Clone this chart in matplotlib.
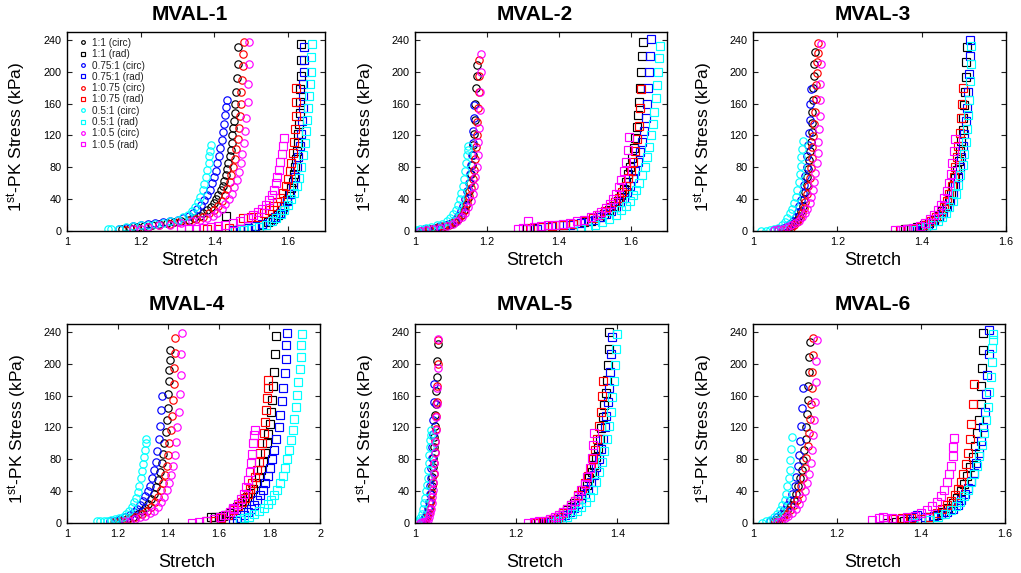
import matplotlib
matplotlib.use("Agg")
import matplotlib.pyplot as plt
from matplotlib.ticker import FormatStrFormatter

plt.rcParams["font.family"] = ["Liberation Sans", "DejaVu Sans"]
plt.rcParams["mathtext.default"] = "regular"

# series order: 1:1 circ, 1:1 rad, 0.75:1 circ, 0.75:1 rad, 1:0.75 circ,
#               1:0.75 rad, 0.5:1 circ, 0.5:1 rad, 1:0.5 circ, 1:0.5 rad
labels = ["1:1 (circ)", "1:1 (rad)", "0.75:1 (circ)", "0.75:1 (rad)",
          "1:0.75 (circ)", "1:0.75 (rad)", "0.5:1 (circ)", "0.5:1 (rad)",
          "1:0.5 (circ)", "1:0.5 (rad)"]
colors = ["black", "black", "blue", "blue", "red", "red",
          "cyan", "cyan", "magenta", "magenta"]
markers = ["o", "s"] * 5

titles = ["MVAL-1", "MVAL-2", "MVAL-3", "MVAL-4", "MVAL-5", "MVAL-6"]
xlims = [(1, 1.7), (1, 1.7), (1, 1.6), (1, 2), (1, 1.5), (1, 1.6)]
xticks = [[1, 1.2, 1.4, 1.6], [1, 1.2, 1.4, 1.6], [1, 1.2, 1.4, 1.6],
          [1, 1.2, 1.4, 1.6, 1.8, 2], [1, 1.2, 1.4], [1, 1.2, 1.4, 1.6]]
yticks = [0, 40, 80, 120, 160, 200, 240]

# stretch (x) and 1st-PK stress in kPa (y)
mval1_x = [
    [1.15, 1.17, 1.19, 1.21, 1.23, 1.25, 1.27, 1.29, 1.31, 1.33, 1.345, 1.36, 1.37, 1.38, 1.39, 1.398, 1.405, 1.411, 1.417, 1.422, 1.427, 1.431, 1.435, 1.438, 1.441, 1.444, 1.447, 1.449, 1.451, 1.453, 1.455, 1.457, 1.459, 1.461, 1.463, 1.465],
    [1.432, 1.45, 1.47, 1.49, 1.51, 1.53, 1.545, 1.56, 1.572, 1.582, 1.59, 1.597, 1.603, 1.608, 1.612, 1.616, 1.619, 1.622, 1.624, 1.626, 1.628, 1.63, 1.631, 1.632, 1.633, 1.634, 1.635, 1.636],
    [1.14, 1.16, 1.18, 1.2, 1.22, 1.24, 1.26, 1.28, 1.3, 1.315, 1.33, 1.342, 1.353, 1.363, 1.372, 1.38, 1.387, 1.393, 1.398, 1.403, 1.408, 1.412, 1.416, 1.42, 1.424, 1.427, 1.43, 1.432, 1.434],
    [1.45, 1.47, 1.49, 1.51, 1.53, 1.55, 1.565, 1.578, 1.589, 1.598, 1.606, 1.613, 1.619, 1.624, 1.628, 1.632, 1.635, 1.637, 1.639, 1.64, 1.641, 1.642, 1.643, 1.644],
    [1.16, 1.19, 1.22, 1.25, 1.28, 1.305, 1.33, 1.35, 1.37, 1.385, 1.398, 1.41, 1.42, 1.428, 1.435, 1.441, 1.446, 1.451, 1.455, 1.459, 1.463, 1.466, 1.469, 1.471, 1.473, 1.475, 1.477, 1.478, 1.479],
    [1.38, 1.41, 1.44, 1.477, 1.5, 1.518, 1.535, 1.548, 1.56, 1.57, 1.578, 1.586, 1.593, 1.599, 1.604, 1.608, 1.612, 1.615, 1.618, 1.62, 1.621, 1.622],
    [1.11, 1.12, 1.14, 1.16, 1.18, 1.2, 1.22, 1.24, 1.26, 1.28, 1.3, 1.315, 1.328, 1.338, 1.347, 1.355, 1.362, 1.368, 1.373, 1.377, 1.381, 1.384, 1.386, 1.388, 1.39],
    [1.455, 1.48, 1.5, 1.52, 1.54, 1.555, 1.568, 1.58, 1.59, 1.6, 1.609, 1.617, 1.624, 1.63, 1.636, 1.641, 1.645, 1.649, 1.652, 1.655, 1.657, 1.659, 1.661, 1.663, 1.664],
    [1.18, 1.2, 1.22, 1.25, 1.28, 1.31, 1.34, 1.36, 1.38, 1.395, 1.408, 1.42, 1.43, 1.439, 1.447, 1.454, 1.46, 1.466, 1.471, 1.476, 1.48, 1.484, 1.487, 1.49, 1.492, 1.494, 1.495],
    [1.309, 1.33, 1.35, 1.37, 1.39, 1.41, 1.43, 1.45, 1.47, 1.49, 1.505, 1.518, 1.53, 1.54, 1.548, 1.555, 1.561, 1.566, 1.571, 1.575, 1.579, 1.583, 1.586, 1.589],
]
mval1_y = [
    [3, 4, 5, 6, 8, 9, 10, 11, 12, 14, 16, 19, 22, 26, 30, 35, 40, 45, 51, 57, 63, 70, 78, 86, 94, 102, 111, 120, 129, 138, 148, 160, 174, 192, 210, 231],
    [19, 1, 2, 4, 6, 8, 11, 15, 20, 26, 32, 39, 46, 54, 62, 71, 80, 90, 100, 111, 122, 135, 148, 162, 178, 195, 215, 235],
    [2, 4, 6, 8, 9, 10, 11, 12, 14, 16, 19, 23, 28, 33, 39, 45, 52, 60, 68, 76, 85, 94, 104, 114, 124, 135, 146, 156, 164],
    [1, 2, 4, 6, 9, 13, 17, 23, 30, 38, 47, 57, 68, 80, 93, 107, 122, 138, 155, 170, 185, 200, 215, 231],
    [1, 3, 5, 7, 9, 11, 13, 15, 18, 22, 27, 32, 38, 45, 53, 61, 70, 80, 91, 103, 116, 130, 145, 160, 175, 190, 207, 222, 237],
    [2, 3, 4, 16, 17, 18, 22, 27, 32, 37, 42, 48, 56, 65, 75, 86, 98, 112, 128, 145, 162, 180],
    [2, 2, 3, 5, 6, 7, 8, 9, 10, 12, 14, 17, 20, 25, 30, 36, 43, 51, 59, 68, 77, 86, 94, 101, 108],
    [0, 1, 3, 5, 8, 12, 16, 21, 27, 33, 40, 48, 57, 67, 80, 95, 110, 125, 140, 155, 170, 185, 200, 218, 235],
    [2, 3, 5, 7, 8, 10, 12, 14, 16, 19, 23, 28, 34, 40, 47, 55, 64, 74, 85, 97, 110, 125, 142, 162, 185, 210, 237],
    [2, 2, 3, 4, 5, 6, 8, 10, 13, 16, 20, 24, 28, 33, 39, 45, 52, 60, 68, 77, 87, 97, 107, 117],
]

mval2_x = [
    [1.02, 1.035, 1.05, 1.065, 1.08, 1.09, 1.1, 1.11, 1.12, 1.128, 1.135, 1.141, 1.146, 1.15, 1.153, 1.156, 1.158, 1.16, 1.162, 1.164, 1.166, 1.168, 1.17, 1.171, 1.172],
    [1.31, 1.33, 1.35, 1.38, 1.41, 1.44, 1.47, 1.49, 1.51, 1.525, 1.54, 1.553, 1.563, 1.572, 1.58, 1.587, 1.593, 1.598, 1.603, 1.608, 1.612, 1.616, 1.62, 1.623, 1.626, 1.629, 1.631, 1.632],
    [1.01, 1.025, 1.04, 1.055, 1.07, 1.085, 1.1, 1.11, 1.12, 1.127, 1.134, 1.14, 1.145, 1.149, 1.152, 1.155, 1.158, 1.16, 1.162, 1.164, 1.165],
    [1.34, 1.37, 1.4, 1.43, 1.46, 1.48, 1.5, 1.515, 1.53, 1.545, 1.558, 1.57, 1.58, 1.589, 1.597, 1.605, 1.612, 1.619, 1.625, 1.631, 1.636, 1.641, 1.645, 1.648, 1.651, 1.653, 1.655],
    [1.02, 1.04, 1.06, 1.08, 1.095, 1.108, 1.12, 1.13, 1.138, 1.145, 1.151, 1.156, 1.16, 1.163, 1.166, 1.169, 1.171, 1.173, 1.175, 1.177, 1.178, 1.179],
    [1.32, 1.35, 1.38, 1.41, 1.44, 1.47, 1.494, 1.512, 1.528, 1.542, 1.555, 1.566, 1.576, 1.585, 1.593, 1.6, 1.606, 1.612, 1.617, 1.621, 1.625, 1.628],
    [1.0, 1.005, 1.015, 1.03, 1.045, 1.06, 1.075, 1.088, 1.098, 1.106, 1.113, 1.119, 1.124, 1.128, 1.132, 1.136, 1.139, 1.142, 1.144, 1.146, 1.147],
    [1.438, 1.46, 1.48, 1.5, 1.52, 1.54, 1.557, 1.572, 1.585, 1.596, 1.606, 1.615, 1.623, 1.631, 1.638, 1.644, 1.65, 1.655, 1.66, 1.665, 1.669, 1.673, 1.676, 1.678, 1.68],
    [1.013, 1.03, 1.05, 1.07, 1.09, 1.105, 1.118, 1.13, 1.14, 1.148, 1.155, 1.16, 1.164, 1.168, 1.171, 1.174, 1.176, 1.178, 1.18, 1.181, 1.182, 1.183],
    [1.287, 1.3, 1.313, 1.33, 1.35, 1.37, 1.39, 1.41, 1.43, 1.45, 1.47, 1.49, 1.505, 1.518, 1.53, 1.541, 1.55, 1.558, 1.566, 1.573, 1.58, 1.586, 1.591, 1.595],
]
mval2_y = [
    [0, 2, 3, 5, 6, 8, 9, 11, 15, 20, 26, 33, 41, 50, 60, 71, 83, 95, 108, 122, 140, 160, 180, 195, 208],
    [3, 4, 5, 6, 7, 9, 11, 13, 17, 21, 27, 32, 38, 45, 53, 62, 71, 81, 92, 104, 117, 131, 146, 162, 180, 200, 220, 238],
    [0, 2, 3, 4, 6, 8, 10, 14, 19, 25, 32, 40, 50, 60, 71, 83, 96, 110, 126, 142, 158],
    [3, 5, 7, 8, 10, 12, 14, 17, 21, 25, 30, 36, 42, 49, 57, 66, 76, 87, 99, 112, 126, 142, 160, 180, 200, 220, 241],
    [0, 2, 4, 6, 8, 11, 15, 20, 27, 35, 44, 54, 65, 77, 90, 105, 120, 137, 155, 175, 195, 215],
    [4, 5, 6, 7, 9, 12, 16, 20, 25, 30, 36, 42, 49, 57, 66, 76, 87, 100, 115, 132, 155, 179],
    [0, 1, 3, 4, 5, 7, 9, 12, 16, 21, 27, 33, 40, 48, 56, 65, 75, 85, 95, 102, 107],
    [0, 2, 4, 7, 11, 15, 20, 26, 32, 38, 45, 52, 60, 70, 81, 93, 106, 120, 135, 150, 167, 184, 200, 217, 233],
    [0, 1, 2, 4, 6, 9, 12, 17, 23, 30, 38, 47, 57, 68, 81, 96, 112, 130, 152, 175, 200, 222],
    [2, 4, 12, 5, 6, 7, 8, 9, 10, 12, 14, 17, 20, 24, 29, 34, 40, 47, 55, 64, 75, 87, 102, 118],
]

mval3_x = [
    [1.06, 1.07, 1.08, 1.09, 1.098, 1.105, 1.11, 1.114, 1.118, 1.121, 1.124, 1.127, 1.129, 1.131, 1.133, 1.135, 1.137, 1.139, 1.14, 1.141, 1.142, 1.143, 1.144, 1.145, 1.146],
    [1.36, 1.375, 1.39, 1.405, 1.418, 1.43, 1.44, 1.449, 1.457, 1.464, 1.47, 1.475, 1.48, 1.484, 1.488, 1.491, 1.494, 1.497, 1.499, 1.501, 1.503, 1.505, 1.506, 1.507],
    [1.05, 1.06, 1.07, 1.08, 1.088, 1.095, 1.101, 1.106, 1.11, 1.114, 1.118, 1.121, 1.124, 1.127, 1.129, 1.131, 1.133, 1.135, 1.136, 1.137],
    [1.37, 1.385, 1.4, 1.415, 1.428, 1.44, 1.45, 1.459, 1.467, 1.474, 1.48, 1.485, 1.49, 1.494, 1.498, 1.501, 1.504, 1.507, 1.51, 1.512, 1.514, 1.515],
    [1.07, 1.08, 1.09, 1.098, 1.105, 1.111, 1.116, 1.12, 1.124, 1.128, 1.131, 1.134, 1.137, 1.139, 1.141, 1.143, 1.145, 1.147, 1.149, 1.15, 1.151, 1.152, 1.153, 1.154],
    [1.348, 1.365, 1.38, 1.395, 1.41, 1.423, 1.435, 1.445, 1.453, 1.46, 1.466, 1.471, 1.476, 1.48, 1.484, 1.487, 1.49, 1.493, 1.495, 1.497],
    [1.02, 1.03, 1.04, 1.05, 1.06, 1.068, 1.075, 1.081, 1.087, 1.092, 1.097, 1.101, 1.105, 1.108, 1.111, 1.113, 1.115, 1.117, 1.119],
    [1.38, 1.395, 1.41, 1.425, 1.438, 1.449, 1.458, 1.466, 1.474, 1.481, 1.487, 1.492, 1.497, 1.501, 1.505, 1.508, 1.511, 1.513, 1.515, 1.516, 1.517],
    [1.05, 1.06, 1.07, 1.08, 1.09, 1.1, 1.108, 1.116, 1.123, 1.129, 1.134, 1.138, 1.142, 1.145, 1.148, 1.151, 1.153, 1.155, 1.157, 1.158, 1.159, 1.16, 1.161, 1.162],
    [1.336, 1.35, 1.365, 1.38, 1.395, 1.408, 1.42, 1.43, 1.439, 1.447, 1.454, 1.46, 1.465, 1.469, 1.473, 1.476, 1.479],
]
mval3_y = [
    [1, 2, 4, 6, 10, 14, 19, 25, 32, 40, 49, 58, 68, 78, 89, 100, 112, 124, 136, 150, 164, 180, 195, 210, 225],
    [2, 3, 5, 7, 10, 14, 19, 25, 32, 39, 47, 56, 66, 77, 88, 100, 113, 127, 142, 158, 175, 194, 212, 231],
    [1, 2, 4, 6, 9, 13, 18, 24, 31, 39, 48, 58, 69, 81, 94, 108, 123, 140, 160, 178],
    [2, 3, 5, 8, 12, 17, 23, 30, 38, 47, 57, 68, 80, 93, 107, 122, 138, 155, 175, 197, 220, 240],
    [1, 2, 4, 7, 11, 16, 22, 29, 37, 46, 56, 67, 79, 92, 105, 119, 134, 150, 166, 183, 198, 212, 224, 236],
    [1, 2, 3, 5, 8, 12, 17, 23, 30, 38, 47, 57, 68, 80, 93, 107, 123, 142, 160, 180],
    [0, 0, 1, 2, 4, 7, 11, 16, 22, 28, 35, 43, 52, 62, 72, 82, 93, 103, 113],
    [1, 3, 5, 8, 12, 17, 23, 30, 38, 47, 58, 70, 83, 97, 112, 128, 146, 165, 188, 210, 233],
    [1, 2, 3, 5, 7, 10, 13, 17, 22, 28, 35, 43, 52, 62, 73, 85, 98, 112, 128, 145, 165, 185, 210, 235],
    [1, 1, 2, 4, 6, 10, 15, 20, 26, 33, 41, 50, 60, 72, 85, 100, 115],
]

mval4_x = [
    [1.2, 1.22, 1.24, 1.26, 1.28, 1.296, 1.31, 1.322, 1.333, 1.343, 1.352, 1.36, 1.367, 1.374, 1.38, 1.385, 1.39, 1.394, 1.398, 1.401, 1.403, 1.405, 1.407, 1.408],
    [1.57, 1.585, 1.6, 1.615, 1.63, 1.645, 1.658, 1.672, 1.686, 1.7, 1.713, 1.725, 1.737, 1.748, 1.758, 1.767, 1.775, 1.783, 1.79, 1.796, 1.802, 1.807, 1.812, 1.816, 1.82, 1.823, 1.826],
    [1.17, 1.19, 1.21, 1.23, 1.25, 1.265, 1.278, 1.29, 1.3, 1.31, 1.319, 1.328, 1.336, 1.344, 1.351, 1.357, 1.363, 1.368, 1.372, 1.375],
    [1.658, 1.67, 1.685, 1.7, 1.715, 1.728, 1.74, 1.752, 1.763, 1.773, 1.783, 1.793, 1.802, 1.811, 1.82, 1.828, 1.836, 1.843, 1.85, 1.855, 1.86, 1.864, 1.867, 1.868],
    [1.184, 1.21, 1.24, 1.27, 1.295, 1.316, 1.333, 1.348, 1.36, 1.37, 1.379, 1.387, 1.394, 1.4, 1.405, 1.41, 1.414, 1.418, 1.421, 1.424, 1.426, 1.428],
    [1.553, 1.58, 1.61, 1.635, 1.658, 1.675, 1.69, 1.703, 1.714, 1.724, 1.733, 1.742, 1.75, 1.757, 1.764, 1.771, 1.777, 1.782, 1.787, 1.791, 1.794, 1.796],
    [1.118, 1.13, 1.145, 1.16, 1.175, 1.19, 1.205, 1.22, 1.233, 1.245, 1.255, 1.264, 1.272, 1.279, 1.285, 1.291, 1.296, 1.3, 1.304, 1.308, 1.311, 1.313],
    [1.684, 1.7, 1.72, 1.74, 1.76, 1.777, 1.793, 1.807, 1.82, 1.832, 1.843, 1.853, 1.862, 1.87, 1.878, 1.885, 1.892, 1.899, 1.905, 1.91, 1.915, 1.919, 1.923, 1.926, 1.928],
    [1.23, 1.25, 1.27, 1.29, 1.31, 1.328, 1.345, 1.36, 1.373, 1.384, 1.394, 1.403, 1.411, 1.418, 1.425, 1.431, 1.436, 1.441, 1.445, 1.449, 1.452, 1.454],
    [1.493, 1.52, 1.55, 1.58, 1.605, 1.625, 1.645, 1.658, 1.662, 1.675, 1.687, 1.698, 1.707, 1.715, 1.722, 1.728, 1.733, 1.737, 1.74, 1.743],
]
mval4_y = [
    [2, 4, 6, 8, 11, 15, 19, 24, 30, 37, 45, 54, 64, 75, 87, 100, 114, 129, 145, 162, 178, 192, 205, 217],
    [8, 8, 8, 9, 10, 13, 17, 20, 24, 28, 33, 38, 43, 50, 58, 67, 77, 88, 100, 112, 125, 140, 155, 172, 190, 212, 235],
    [2, 3, 5, 7, 10, 14, 18, 23, 28, 34, 40, 47, 56, 66, 77, 90, 105, 122, 142, 160],
    [0, 3, 6, 10, 14, 18, 23, 29, 35, 42, 50, 59, 69, 80, 92, 105, 120, 136, 153, 170, 188, 206, 224, 239],
    [1, 3, 5, 8, 11, 15, 20, 26, 33, 41, 50, 60, 72, 85, 100, 117, 135, 155, 175, 195, 214, 232],
    [2, 3, 6, 10, 16, 21, 27, 32, 37, 43, 50, 58, 67, 77, 88, 100, 113, 127, 142, 157, 170, 180],
    [2, 2, 3, 3, 4, 5, 6, 8, 11, 15, 20, 26, 32, 39, 47, 56, 65, 74, 83, 92, 100, 105],
    [4, 6, 8, 11, 15, 19, 24, 29, 35, 42, 50, 59, 69, 80, 92, 104, 117, 131, 146, 161, 177, 193, 208, 223, 237],
    [2, 3, 5, 7, 9, 12, 15, 20, 26, 33, 41, 50, 60, 72, 86, 102, 120, 140, 162, 186, 212, 239],
    [0, 1, 3, 5, 7, 10, 14, 19, 18, 24, 30, 37, 45, 54, 64, 75, 87, 100, 110, 117],
]

mval5_x = [
    [1.015, 1.02, 1.024, 1.027, 1.029, 1.031, 1.033, 1.034, 1.035, 1.036, 1.037, 1.038, 1.039, 1.04, 1.041, 1.042, 1.043, 1.044, 1.045],
    [1.244, 1.255, 1.265, 1.275, 1.284, 1.292, 1.3, 1.308, 1.315, 1.322, 1.328, 1.334, 1.339, 1.344, 1.349, 1.353, 1.357, 1.361, 1.365, 1.368, 1.371, 1.374, 1.377, 1.379, 1.381, 1.383, 1.384],
    [1.012, 1.016, 1.02, 1.023, 1.025, 1.027, 1.029, 1.03, 1.031, 1.032, 1.033, 1.034, 1.035, 1.036, 1.037, 1.038],
    [1.257, 1.268, 1.278, 1.288, 1.297, 1.306, 1.314, 1.322, 1.329, 1.336, 1.342, 1.348, 1.353, 1.358, 1.363, 1.367, 1.371, 1.375, 1.378, 1.381, 1.384, 1.386, 1.388, 1.389],
    [1.015, 1.02, 1.024, 1.027, 1.03, 1.032, 1.034, 1.036, 1.037, 1.038, 1.039, 1.04, 1.041, 1.042, 1.043, 1.044, 1.045, 1.046],
    [1.237, 1.25, 1.262, 1.273, 1.283, 1.292, 1.3, 1.308, 1.316, 1.323, 1.33, 1.336, 1.342, 1.347, 1.352, 1.356, 1.36, 1.364, 1.367, 1.37, 1.371],
    [1.0, 1.003, 1.006, 1.01, 1.013, 1.016, 1.018, 1.02, 1.022, 1.023, 1.025, 1.026, 1.027, 1.028, 1.029, 1.03, 1.031, 1.032],
    [1.27, 1.28, 1.29, 1.3, 1.31, 1.32, 1.329, 1.337, 1.345, 1.352, 1.358, 1.364, 1.369, 1.374, 1.379, 1.383, 1.387, 1.39, 1.393, 1.396, 1.398, 1.399],
    [1.009, 1.013, 1.017, 1.021, 1.025, 1.028, 1.03, 1.032, 1.033, 1.034, 1.035, 1.036, 1.037, 1.038, 1.039, 1.04, 1.041, 1.042, 1.043, 1.044, 1.045, 1.046],
    [1.224, 1.235, 1.246, 1.257, 1.267, 1.276, 1.285, 1.293, 1.301, 1.309, 1.316, 1.323, 1.329, 1.335, 1.34, 1.345, 1.349, 1.352, 1.354],
]
mval5_y = [
    [1, 5, 10, 17, 26, 36, 47, 58, 70, 82, 95, 108, 122, 136, 150, 166, 183, 204, 225],
    [0, 1, 3, 5, 8, 12, 16, 20, 25, 30, 35, 41, 48, 56, 64, 73, 83, 94, 106, 119, 133, 148, 163, 180, 198, 218, 240],
    [1, 4, 8, 13, 19, 27, 36, 46, 57, 69, 82, 96, 112, 130, 152, 175],
    [0, 2, 4, 7, 10, 14, 19, 24, 30, 36, 43, 51, 60, 70, 81, 93, 106, 120, 135, 152, 170, 190, 212, 234],
    [0, 3, 7, 12, 19, 28, 38, 50, 62, 75, 89, 103, 118, 134, 152, 172, 200, 230],
    [0, 1, 3, 5, 8, 12, 17, 22, 28, 35, 42, 50, 59, 69, 80, 92, 106, 122, 140, 160, 179],
    [0, 1, 3, 6, 11, 18, 25, 32, 40, 48, 57, 66, 76, 86, 95, 104, 110, 117],
    [0, 2, 4, 7, 11, 15, 20, 26, 33, 42, 52, 64, 77, 91, 106, 122, 140, 158, 178, 198, 218, 237],
    [0, 1, 1, 2, 4, 7, 12, 18, 25, 33, 42, 52, 63, 75, 88, 102, 117, 133, 150, 170, 195, 231],
    [0, 1, 2, 3, 5, 7, 10, 14, 18, 23, 28, 34, 41, 49, 58, 69, 82, 98, 113],
]

mval6_x = [
    [1.05, 1.058, 1.066, 1.074, 1.082, 1.09, 1.097, 1.103, 1.108, 1.112, 1.116, 1.119, 1.122, 1.125, 1.127, 1.129, 1.131, 1.132, 1.133, 1.134, 1.135],
    [1.319, 1.34, 1.36, 1.38, 1.4, 1.42, 1.437, 1.452, 1.465, 1.476, 1.486, 1.495, 1.503, 1.51, 1.517, 1.523, 1.529, 1.534, 1.538, 1.542, 1.544, 1.546, 1.547, 1.548],
    [1.041, 1.05, 1.058, 1.066, 1.074, 1.081, 1.088, 1.094, 1.099, 1.103, 1.107, 1.11, 1.113, 1.115, 1.117, 1.119],
    [1.366, 1.38, 1.39, 1.41, 1.43, 1.448, 1.463, 1.476, 1.487, 1.496, 1.504, 1.512, 1.519, 1.526, 1.532, 1.538, 1.543, 1.548, 1.552, 1.555, 1.558, 1.561, 1.563],
    [1.053, 1.062, 1.071, 1.08, 1.089, 1.097, 1.104, 1.11, 1.115, 1.119, 1.123, 1.127, 1.13, 1.133, 1.136, 1.138, 1.14, 1.141, 1.142, 1.143],
    [1.334, 1.355, 1.375, 1.4, 1.42, 1.437, 1.45, 1.461, 1.471, 1.48, 1.488, 1.495, 1.501, 1.507, 1.512, 1.516, 1.52, 1.523, 1.525],
    [1.021, 1.03, 1.04, 1.05, 1.058, 1.065, 1.07, 1.075, 1.079, 1.082, 1.085, 1.087, 1.089, 1.091, 1.093],
    [1.382, 1.4, 1.42, 1.44, 1.458, 1.472, 1.484, 1.494, 1.503, 1.511, 1.519, 1.526, 1.533, 1.539, 1.545, 1.55, 1.555, 1.559, 1.563, 1.566, 1.568, 1.57, 1.571, 1.572],
    [1.057, 1.066, 1.075, 1.084, 1.093, 1.102, 1.11, 1.117, 1.123, 1.128, 1.133, 1.137, 1.14, 1.143, 1.146, 1.148, 1.15, 1.151, 1.152],
    [1.283, 1.3, 1.31, 1.32, 1.33, 1.35, 1.366, 1.385, 1.4, 1.414, 1.427, 1.438, 1.447, 1.455, 1.461, 1.467, 1.471, 1.475, 1.477, 1.479],
]
mval6_y = [
    [2, 4, 7, 11, 16, 22, 29, 37, 46, 56, 67, 79, 92, 106, 121, 137, 154, 172, 190, 209, 227],
    [0, 1, 2, 3, 5, 7, 10, 14, 19, 25, 32, 40, 49, 59, 70, 83, 97, 113, 130, 150, 172, 195, 217, 239],
    [2, 4, 7, 11, 16, 22, 29, 37, 47, 58, 71, 86, 103, 122, 145, 169],
    [5, 8, 10, 8, 9, 11, 14, 18, 23, 29, 36, 44, 53, 63, 75, 88, 103, 120, 140, 162, 186, 212, 242],
    [2, 4, 7, 11, 16, 22, 29, 37, 46, 57, 69, 82, 97, 113, 131, 150, 170, 190, 211, 232],
    [5, 6, 6, 5, 8, 12, 17, 22, 28, 35, 43, 52, 62, 74, 88, 105, 125, 150, 174],
    [0, 2, 4, 7, 11, 16, 22, 29, 37, 46, 56, 67, 79, 93, 108],
    [0, 2, 4, 7, 11, 16, 21, 27, 34, 42, 51, 61, 72, 84, 98, 113, 129, 146, 164, 183, 202, 220, 230, 238],
    [1, 3, 6, 9, 13, 18, 24, 31, 40, 50, 62, 76, 92, 110, 130, 152, 177, 203, 230],
    [4, 6, 8, 5, 6, 5, 7, 9, 12, 16, 21, 27, 34, 42, 51, 61, 72, 84, 96, 107],
]

panels_x = [mval1_x, mval2_x, mval3_x, mval4_x, mval5_x, mval6_x]
panels_y = [mval1_y, mval2_y, mval3_y, mval4_y, mval5_y, mval6_y]

W, H = 1021, 573
fig = plt.figure(figsize=(W / 100, H / 100), dpi=100)

# axes boxes in pixels: left, top, right, bottom
boxes = [(67, 32, 325, 231), (415, 32, 667, 231), (753, 32, 1006, 231),
         (67, 324, 320, 523), (415, 324, 668, 523), (753, 324, 1005, 523)]

for i in range(6):
    l, t, r, b = boxes[i]
    ax = fig.add_axes([l / W, 1 - b / H, (r - l) / W, (b - t) / H])
    for k in range(10):
        ax.plot(panels_x[i][k], panels_y[i][k], linestyle="none",
                marker=markers[k], markersize=5.3, markerfacecolor="none",
                markeredgecolor=colors[k], markeredgewidth=0.85,
                label=labels[k])
    ax.set_xlim(xlims[i])
    ax.set_ylim(0, 250)
    ax.set_xticks(xticks[i])
    ax.set_yticks(yticks)
    ax.xaxis.set_major_formatter(FormatStrFormatter("%g"))
    ax.tick_params(direction="in", length=3.5, width=0.8, top=True,
                   right=True, labelsize=7.8, pad=4, colors="#222222",
                   labelcolor="black")
    for sp in ax.spines.values():
        sp.set_linewidth(1.0)
    ax.text(0.475, 1.0 + (17 if i < 3 else 19) / 199, titles[i],
            transform=ax.transAxes, ha="center", va="center",
            fontsize=15, fontweight="bold")
    ax.set_xlabel("Stretch", fontsize=13, va="center")
    ax.xaxis.set_label_coords(0.475, -0.146 if i < 3 else -0.196)
    ax.set_ylabel("1$^{st}$-PK Stress (kPa)", fontsize=12.5, va="center")
    ax.yaxis.set_label_coords(-0.195, 0.47)
    if i == 0:
        leg = ax.legend(loc="upper left", bbox_to_anchor=(0.03, 0.99),
                        frameon=False, fontsize=7.2, markerscale=0.5,
                        handlelength=0.8, handletextpad=0.5,
                        labelspacing=0.13, borderaxespad=0.2, borderpad=0.2)
        for txt in leg.get_texts():
            txt.set_color("#222222")

fig.savefig("out.png", dpi=100)
